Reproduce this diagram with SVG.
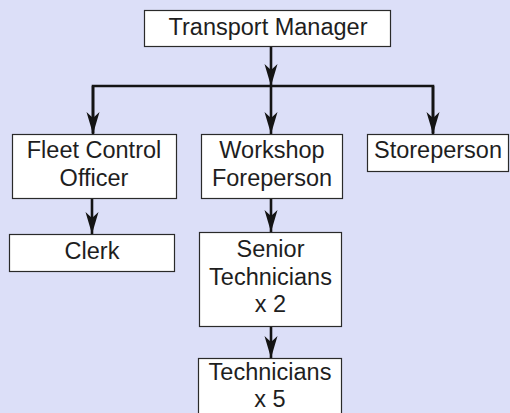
<svg xmlns="http://www.w3.org/2000/svg" width="510" height="413" viewBox="0 0 510 413">
  <defs>
    <marker id="arrow" markerUnits="userSpaceOnUse" markerWidth="24" markerHeight="16" viewBox="-23 -8 24 16" refX="0" refY="0" orient="auto">
      <path d="M0,0 L-22,-6.5 L-16,0 L-22,6.5 Z" fill="#141414"/>
    </marker>
    <style>
      .box { fill: #ffffff; stroke: #2a2a2a; stroke-width: 1.2; }
      .lbl { font-family: "Liberation Sans", Arial, Helvetica, sans-serif; font-size: 23.5px; fill: #1e1e1e; text-anchor: middle; }
      .wire { fill: none; stroke: #141414; stroke-width: 2.6; }
      .arr { fill: none; stroke: #141414; stroke-width: 2.6; marker-end: url(#arrow); }
    </style>
  </defs>

  <rect x="0" y="0" width="510" height="413" fill="#dcdff8"/>

  <!-- connectors -->
  <g id="connectors">
    <line class="arr" x1="271" y1="46" x2="271" y2="86"/>
    <polyline class="wire" points="93,133 93,86 433,86 433,133"/>
    <line class="arr" x1="93" y1="86" x2="93" y2="134"/>
    <line class="arr" x1="271" y1="86" x2="271" y2="134"/>
    <line class="arr" x1="433" y1="86" x2="433" y2="134"/>
    <line class="arr" x1="92" y1="198" x2="92" y2="234"/>
    <line class="arr" x1="271" y1="198" x2="271" y2="232"/>
    <line class="arr" x1="271" y1="326" x2="271" y2="358"/>
  </g>

  <g id="transport-manager">
    <rect class="box" x="144.5" y="10.5" width="246" height="36"/>
    <text class="lbl" x="268" y="35">Transport Manager</text>
  </g>

  <g id="fleet-control-officer">
    <rect class="box" x="12.5" y="134.5" width="164" height="64"/>
    <text class="lbl" x="94" y="158">Fleet Control</text>
    <text class="lbl" x="94" y="185.5">Officer</text>
  </g>

  <g id="workshop-foreperson">
    <rect class="box" x="201.5" y="134.5" width="141" height="64"/>
    <text class="lbl" x="272" y="158">Workshop</text>
    <text class="lbl" x="272" y="185.5">Foreperson</text>
  </g>

  <g id="storeperson">
    <rect class="box" x="367.5" y="134.5" width="141" height="37"/>
    <text class="lbl" x="438" y="158">Storeperson</text>
  </g>

  <g id="clerk">
    <rect class="box" x="9.5" y="234.5" width="165" height="37"/>
    <text class="lbl" x="92" y="258.5">Clerk</text>
  </g>

  <g id="senior-technicians">
    <rect class="box" x="199.5" y="232.5" width="142" height="94"/>
    <text class="lbl" x="270.5" y="257">Senior</text>
    <text class="lbl" x="270.5" y="284.5">Technicians</text>
    <text class="lbl" x="270.5" y="311.5">x 2</text>
  </g>

  <g id="technicians">
    <rect class="box" x="198.5" y="358.5" width="143" height="60"/>
    <text class="lbl" x="270" y="379.5">Technicians</text>
    <text class="lbl" x="270" y="406.5">x 5</text>
  </g>
</svg>
